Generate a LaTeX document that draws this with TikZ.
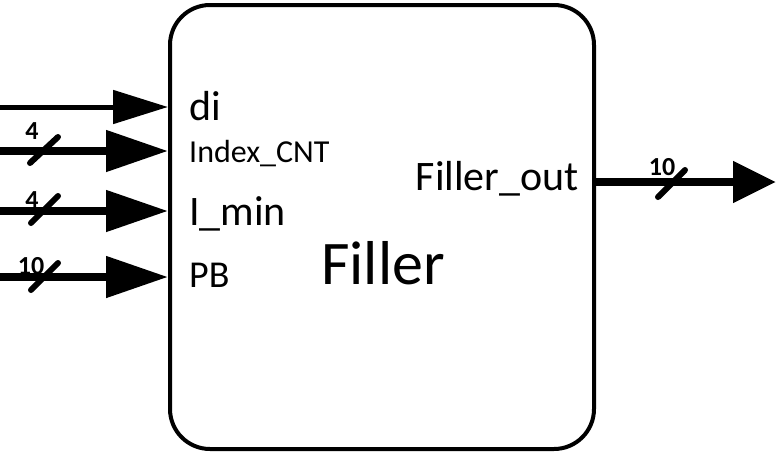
\documentclass[tikz,border=0pt]{standalone}
\usepackage{fontspec}
\setmainfont{Carlito}
\usetikzlibrary{arrows.meta}
\usetikzlibrary{calc}

\begin{document}
\begin{tikzpicture}[x=1pt, y=-1pt,
    signal/.style={line width=5pt, -{Triangle[length=55pt, width=33pt]}},
    bus/.style={line width=8pt, -{Triangle[length=62pt, width=40pt]}},
    busslash/.style={line width=6pt, line cap=round},
    buswidth/.style={font=\fontsize{26}{26}\selectfont\bfseries, inner sep=0pt},
    portlabel/.style={anchor=base west, inner sep=0pt, font=\fontsize{42}{42}\selectfont}]

    \useasboundingbox (0,0) rectangle (776,453);

    % the block itself
    \node[draw, line width=4pt, rounded corners=40pt, minimum width=424pt, minimum height=444pt, inner sep=0pt] (filler) at (382,227) {};
    \node[anchor=base, inner sep=0pt, font=\fontsize{62}{62}\selectfont] (name) at (383,284) {Filler};

    % port names
    \node[portlabel] (di) at (189,120) {di};
    \node[portlabel, font=\fontsize{32}{32}\selectfont] (idx) at (189,162) {Index\_CNT};
    \node[portlabel] (imin) at (189,225) {I\_min};
    \node[portlabel, font=\fontsize{38}{38}\selectfont] (pb) at (189,287) {PB};
    \node[portlabel, anchor=base east] (fout) at (579,190) {Filler\_out};

    % inputs
    \coordinate (di-in) at (0,107);
    \coordinate (idx-in) at (0,151);
    \coordinate (imin-in) at (0,211);
    \coordinate (pb-in) at (0,277);
    \draw[signal] (di-in) -- (di-in -| filler.west);
    \draw[bus] (idx-in) -- (idx-in -| filler.west);
    \draw[bus] (imin-in) -- (imin-in -| filler.west);
    \draw[bus] (pb-in) -- (pb-in -| filler.west);

    \draw[busslash] ($(idx-in)+(30,12)$) -- ++(28,-26);
    \draw[busslash] ($(imin-in)+(31,12)$) -- ++(27,-27);
    \draw[busslash] ($(pb-in)+(31,13)$) -- ++(27,-27);
    \node[buswidth] (idx-w) at (32,131) {4};
    \node[buswidth] (imin-w) at (32,200) {4};
    \node[buswidth] (pb-w) at (31,266) {10};

    % output
    \coordinate (fout-end) at (776,182);
    \draw[bus, -{Triangle[length=43pt, width=40pt]}] (fout-end -| filler.east) -- (fout-end);
    \draw[busslash] ($(fout-end)+(-118,15)$) -- ++(27,-27);
    \node[buswidth] (fout-w) at (662,167) {10};

\end{tikzpicture}
\end{document}
